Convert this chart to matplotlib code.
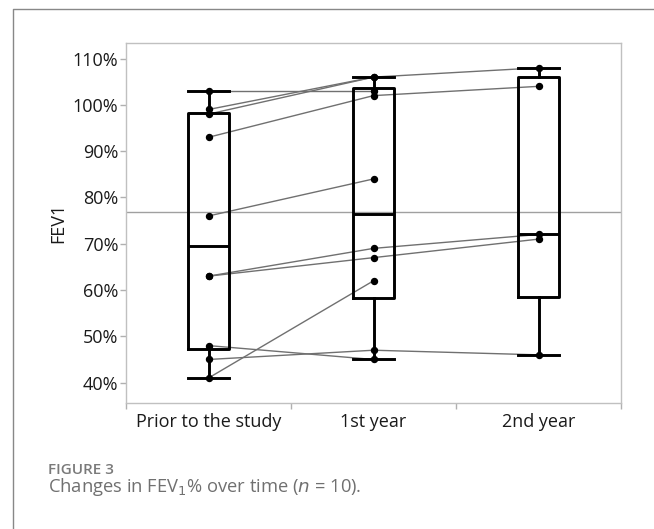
import numpy as np
import matplotlib
matplotlib.use("Agg")
import matplotlib.pyplot as plt
from matplotlib.lines import Line2D

plt.rcParams['font.family'] = ['Open Sans', 'DejaVu Sans']

# ---- data (FEV1 %, one row per patient) ----
categories = ["Prior to the study", "1st year", "2nd year"]
prior = [103, 99, 98, 93, 76, 63, 63, 48, 45, 41]
year1 = [103, 106, 106, 102, 84, 69, 67, 45, 47, 62]
year2 = [np.nan, 108, np.nan, 104, np.nan, 72, 71, np.nan, 46, np.nan]
y_ticks = [40, 50, 60, 70, 80, 90, 100, 110]

data = np.array([prior, year1, year2], dtype=float)  # shape (3, n)

W, H = 654, 529
fig = plt.figure(figsize=(W / 100, H / 100), dpi=100)
ax = fig.add_axes([126 / W, 1 - 403 / H, (621 - 126) / W, (403 - 43.3) / H])

xs = np.arange(len(categories))

# box statistics (Minitab-style quartiles)
stats = []
for i in range(len(categories)):
    v = data[i][~np.isnan(data[i])]
    q1, med, q3 = np.percentile(v, [25, 50, 75], method='weibull')
    stats.append(dict(med=med, q1=q1, q3=q3, whislo=v.min(), whishi=v.max(), fliers=[]))

# reference line at overall mean
allv = data[~np.isnan(data)]
ax.axhline(allv.mean(), color='#a0a0a0', lw=1.0, zorder=1)

# patient lines
for p in range(data.shape[1]):
    ys = data[:, p]
    m = ~np.isnan(ys)
    ax.plot(xs[m], ys[m], color='#707070', lw=1.0, zorder=2)

bw = 0.245
lw = 2.1
ax.bxp(stats, positions=xs, widths=bw, showfliers=False, patch_artist=False,
       boxprops=dict(color='black', lw=lw),
       medianprops=dict(color='black', lw=lw),
       whiskerprops=dict(color='black', lw=lw),
       capprops=dict(color='black', lw=lw),
       capwidths=bw, manage_ticks=False, zorder=3)

# points
for i in range(len(categories)):
    v = data[i][~np.isnan(data[i])]
    ax.plot(np.full(len(v), xs[i]), v, 'o', color='black', ms=4.3, zorder=4)

ax.set_xlim(-0.5, 2.5)
ax.set_ylim(35.6, 113.3)
ax.set_yticks(y_ticks)
ax.set_yticklabels([f"{t}%" for t in y_ticks])
ax.set_xticks(xs)
ax.set_xticklabels(categories)
ax.set_xticks([-0.5, 0.5, 1.5, 2.5], minor=True)
ax.tick_params(axis='x', which='major', length=0, pad=7, labelsize=13, labelcolor='#1a1a1a')
ax.tick_params(axis='x', which='minor', length=4, color='#b0b0b0', width=1)
ax.tick_params(axis='y', length=4, color='#b0b0b0', width=1, pad=1.5, labelsize=13, labelcolor='#1a1a1a')
for s in ax.spines.values():
    s.set_color('#c0c0c0')
    s.set_linewidth(1.0)
ax.set_ylabel("FEV1", fontsize=13, color='#1a1a1a', labelpad=4)

# outer frame
fig.add_artist(Line2D([13 / W, 13 / W, 1.0], [0.0, 1 - 9 / H, 1 - 9 / H],
                      transform=fig.transFigure, color='#888888', lw=1.0))

fig.text(48 / W, 1 - 470 / H, "FIGURE 3", fontsize=11, color='#7a7a7a',
         fontweight='semibold', va='center', ha='left')
fig.text(48 / W, 1 - 487 / H, r"Changes in FEV$_1$% over time ($n$ = 10).",
         fontsize=13.2, color='#707070', va='center', ha='left')

fig.savefig("out.png", dpi=100)
